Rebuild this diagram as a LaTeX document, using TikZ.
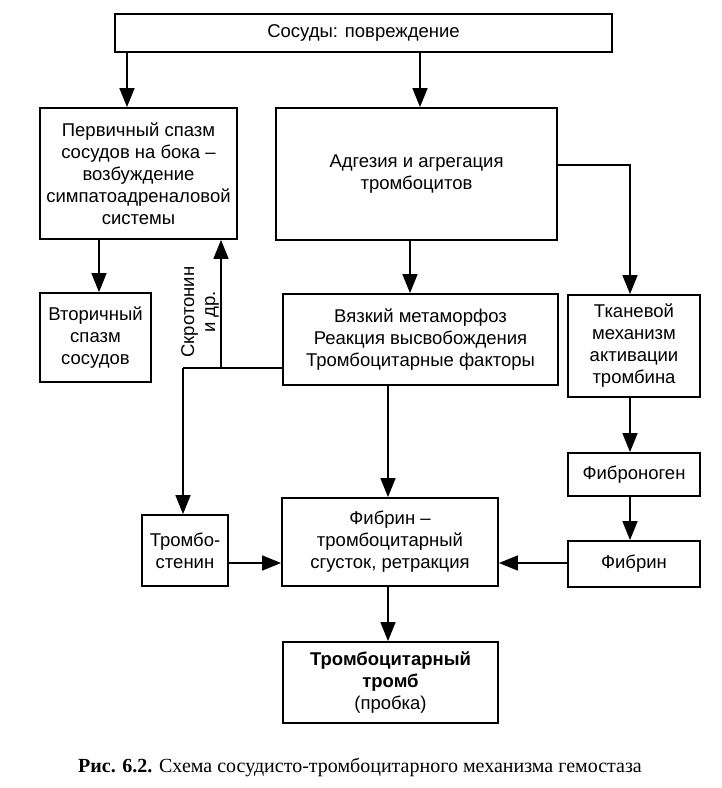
\documentclass[tikz,border=0pt]{standalone}
\usepackage{fontspec}
\setmainfont{Liberation Sans}
\newfontfamily\capfont{Liberation Serif}
\usetikzlibrary{arrows.meta}
\begin{document}
\begin{tikzpicture}[x=1pt,y=-1pt,
  box/.style={draw, line width=1.8pt, inner sep=0pt, align=center,
    font=\fontsize{18.5}{22}\selectfont},
  arr/.style={line width=1.6pt, -{Triangle[length=19pt,width=15pt]}},
  ln/.style={line width=1.6pt}]
\useasboundingbox (0,0) rectangle (722,788);
\node[box, minimum width=497pt, minimum height=38pt] (top) at (363.5,33) {Сосуды: повреждение};
\node[box, minimum width=197pt, minimum height=131pt] (prim) at (138.5,173.5) {Первичный спазм\\сосудов на бока –\\возбуждение\\симпатоадреналовой\\системы};
\node[box, minimum width=281pt, minimum height=132pt] (adh) at (416.5,174) {Адгезия и агрегация\\тромбоцитов};
\node[box, minimum width=111pt, minimum height=89pt] (sec) at (95.5,337.5) {Вторичный\\спазм\\сосудов};
\node[box, minimum width=275pt, minimum height=91pt] (vis) at (420.5,339.5) {Вязкий метаморфоз\\Реакция высвобождения\\Тромбоцитарные факторы};
\node[box, minimum width=132pt, minimum height=102pt] (tiss) at (634,346) {Тканевой\\механизм\\активации\\тромбина};
\node[box, minimum width=132pt, minimum height=43pt] (fibro) at (634,474.5) {Фиброноген};
\node[box, minimum width=132pt, minimum height=46pt] (fibrin) at (634,564) {Фибрин};
\node[box, minimum width=216pt, minimum height=88pt] (clot) at (390,542) {Фибрин –\\тромбоцитарный\\сгусток, ретракция};
\node[box, minimum width=86pt, minimum height=71pt] (sten) at (185,550.5) {Тромбо-\\стенин};
\node[box, minimum width=215pt, minimum height=81pt] (thromb) at (390.5,682.5) {\textbf{Тромбоцитарный}\\\textbf{тромб}\\(пробка)};
\node[rotate=90, align=center, inner sep=0pt, font=\fontsize{18.5}{21}\selectfont] (lab) at (200,312) {Скротонин\\и др.};
\node[anchor=base west, inner sep=0pt, font=\capfont\fontsize{20}{24}\selectfont] (cap) at (78,772) {\textbf{Рис. 6.2.} Схема сосудисто-тромбоцитарного механизма гемостаза};
\coordinate (j1) at (183,368);
\coordinate (j2) at (221,368);
\coordinate (j3) at (630,165);
\draw[arr] (top.south -| 127,0) -- (prim.north -| 127,0);
\draw[arr] (top.south -| 420,0) -- (adh.north -| 420,0);
\draw[arr] (prim.south -| 99,0) -- (sec.north -| 99,0);
\draw[arr] (adh.south -| 410,0) -- (vis.north -| 410,0);
\draw[arr] (adh.east |- j3) -- (j3) -- (tiss.north -| j3);
\draw[arr] (tiss.south -| j3) -- (fibro.north -| j3);
\draw[arr] (fibro.south -| j3) -- (fibrin.north -| j3);
\draw[arr] (fibrin.west |- 0,563) -- (clot.east |- 0,563);
\draw[arr] (vis.south -| 388,0) -- (clot.north -| 388,0);
\draw[arr] (clot.south -| 388,0) -- (thromb.north -| 388,0);
\draw[arr] (sten.east |- 0,563) -- (clot.west |- 0,563);
\draw[ln] (vis.west |- j1) -- (j1);
\draw[arr] (j1) -- (sten.north -| j1);
\draw[arr] (j2) -- (prim.south -| j2);
\end{tikzpicture}
\end{document}
